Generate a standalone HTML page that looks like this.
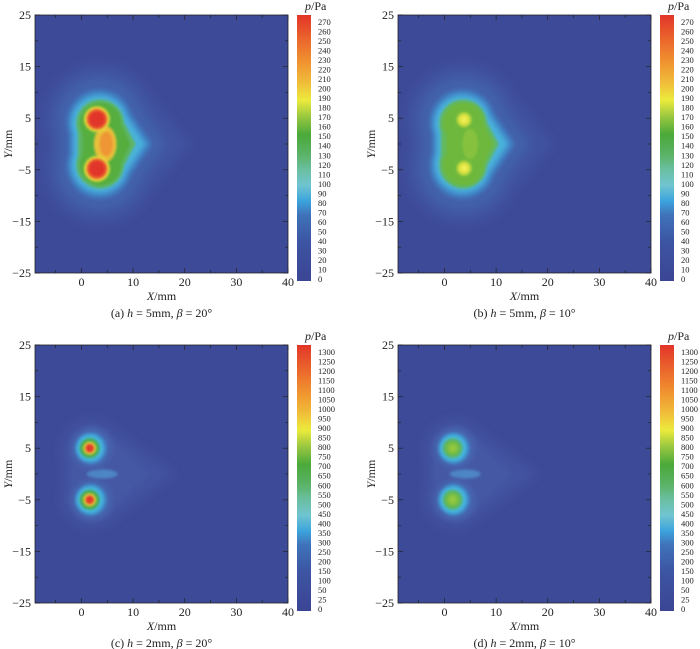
<!DOCTYPE html>
<html><head><meta charset="utf-8"><style>
body{margin:0;background:#fff;}
svg{display:block;font-family:"Liberation Serif","Times New Roman",serif;}
</style></head><body>
<svg id="s" width="700" height="649" xmlns="http://www.w3.org/2000/svg">
<defs>
<filter id="b1" x="-50%" y="-50%" width="200%" height="200%"><feGaussianBlur stdDeviation="5"/></filter>
<filter id="b2" x="-50%" y="-50%" width="200%" height="200%"><feGaussianBlur stdDeviation="2.5"/></filter>
<filter id="b3" x="-50%" y="-50%" width="200%" height="200%"><feGaussianBlur stdDeviation="1.2"/></filter>
<linearGradient id="cb" x1="0" y1="1" x2="0" y2="0">
<stop offset="0" stop-color="#3b4594"/>
<stop offset="0.15" stop-color="#3c55a3"/>
<stop offset="0.25" stop-color="#3f74ba"/>
<stop offset="0.3" stop-color="#3ba3dc"/>
<stop offset="0.36" stop-color="#70c4d0"/>
<stop offset="0.42" stop-color="#6abfa0"/>
<stop offset="0.47" stop-color="#5cb36a"/>
<stop offset="0.55" stop-color="#4aa93a"/>
<stop offset="0.62" stop-color="#9cc840"/>
<stop offset="0.68" stop-color="#eceb3c"/>
<stop offset="0.74" stop-color="#f0c03a"/>
<stop offset="0.82" stop-color="#f09430"/>
<stop offset="0.9" stop-color="#eb6a2c"/>
<stop offset="1" stop-color="#e2352a"/>
</linearGradient>
</defs>
</svg>
<script>
const S=document.getElementById('s');const NS='http://www.w3.org/2000/svg';
function el(t,a,p,txt){const e=document.createElementNS(NS,t);for(const k in a)e.setAttribute(k,a[k]);if(txt!==undefined)e.textContent=txt;(p||S).appendChild(e);return e;}
const labA=[];for(let v=270;v>=0;v-=10)labA.push(v);
const labC=[];for(let v=1300;v>=100;v-=50)labC.push(v);labC.push(50,25,0);
function panel(ox,oy,type,cap){
 const L=ox+35,T=oy+15,W=253,H=258;
 const u=W/49;
 const px=X=>L+(X+9)*u, py=Y=>T+(25-Y)*(H/50);
 const cid='c'+type;
 const cp=el('clipPath',{id:cid});el('rect',{x:L,y:T,width:W,height:H},cp);
 const g=el('g',{'clip-path':`url(#${cid})`});
 el('rect',{x:L,y:T,width:W,height:H,fill:'#3d4a98'},g);
 function shape(cx,dy,r,tip,col,f,notch){
  const gg=el('g',{filter:f,fill:col},g);
  el('circle',{cx:px(cx),cy:py(dy),r:r*u},gg);
  el('circle',{cx:px(cx),cy:py(-dy),r:r*u},gg);
  el('polygon',{points:`${px(cx)},${py(dy+r)} ${px(cx+r*0.6)},${py(dy+r*0.8)} ${px(tip)},${py(0)} ${px(cx+r*0.6)},${py(-dy-r*0.8)} ${px(cx)},${py(-dy-r)}`},gg);
  const lx=cx-r*(notch===undefined?0.93:notch);
  el('rect',{x:px(lx),y:py(dy),width:(cx+r-lx)*u,height:(2*dy)*u},gg);
 }
 function circ(X,Y,r,col,f){el('circle',{cx:px(X),cy:py(Y),r:r*u,fill:col,filter:f},g);}
 if(type==='a'||type==='b'){
  const A=type==='a';
  shape(3.5,4.5,11,21,'#4052a0','url(#b1)');
  shape(3.5,4.5,8.5,16.5,'#4262ab','url(#b1)');
  shape(3.5,4.2,6.2,13.5,'#3f86c8','url(#b2)');
  shape(3.5,4.0,5.4,12.3,'#48b2dc','url(#b2)');
  shape(3.6,4.0,4.6,10.5,A?'#5db566':'#62b862','url(#b3)');
  shape(3.7,4.0,4.0,9.5,A?'#55ae3c':'#6eb83c','url(#b3)',0.85);
  if(A){
   el('ellipse',{cx:px(4.6),cy:py(0),rx:2.2*u,ry:3.5*u,fill:'#e9c03a',filter:'url(#b3)'},g);
   el('ellipse',{cx:px(4.8),cy:py(0),rx:1.3*u,ry:2.4*u,fill:'#ee9534',filter:'url(#b3)'},g);
   for(const Y of [4.8,-4.8]){circ(3,Y,2.5,'#e9d83c','url(#b3)');circ(3,Y,2.0,'#ea6a2e','url(#b3)');circ(3,Y,1.6,'#e2352a','url(#b3)');}
  }else{
   el('ellipse',{cx:px(5),cy:py(0),rx:1.5*u,ry:3*u,fill:'#86c23c',filter:'url(#b3)'},g);
   for(const Y of [4.7,-4.7]){circ(3.8,Y,1.4,'#c8dc3c','url(#b3)');circ(3.8,Y,0.8,'#f0ec50','url(#b3)');}
  }
 }else{
  const red=type==='c';
  shape(2,4.5,6,18,'#4252a0','url(#b1)');
  shape(2,4.5,4.5,13,'#4458a4','url(#b2)');
  el('ellipse',{cx:px(4),cy:py(0),rx:3*u,ry:0.9*u,fill:'#4e86c4',filter:'url(#b3)'},g);
  for(const Y of [5,-5]){
   circ(2,Y,4.0,'#4664ae','url(#b2)');
   circ(1.8,Y,3.1,'#3f88c8','url(#b3)');
   circ(1.7,Y,2.6,'#45b4de','url(#b3)');
   circ(1.6,Y,1.9,red?'#4aaa48':'#5cb662','url(#b3)');
   circ(1.6,Y,1.25,red?'#e8d23c':'#7cbe40','url(#b3)');
   if(red)circ(1.6,Y,0.85,'#e23a2a','url(#b3)');
   else circ(1.6,Y,0.7,'#94c840','url(#b3)');
  }
 }
 el('rect',{x:L,y:T,width:W,height:H,fill:'none',stroke:'#222','stroke-width':0.8});
 for(let X=-5;X<=40;X+=5){const x=px(X);const len=X%10===0?5:3;el('line',{x1:x,y1:T+H,x2:x,y2:T+H-len,stroke:'#222','stroke-width':0.7});el('line',{x1:x,y1:T,x2:x,y2:T+len,stroke:'#222','stroke-width':0.7});}
 for(let Y=-25;Y<=25;Y+=5){const y=py(Y);const len=(Y+25)%10===0?5:3;el('line',{x1:L,y1:y,x2:L+len,y2:y,stroke:'#222','stroke-width':0.7});el('line',{x1:L+W,y1:y,x2:L+W-len,y2:y,stroke:'#222','stroke-width':0.7});}
 for(const X of [0,10,20,30,40])el('text',{x:px(X),y:T+H+13,'font-size':12,'text-anchor':'middle',fill:'#222'},undefined,X);
 for(const Y of [25,15,5,-5,-15,-25])el('text',{x:L-4,y:py(Y)+4,'font-size':12,'text-anchor':'end',fill:'#222'},undefined,(Y<0?'\u2212'+(-Y):Y));
 const xl=el('text',{x:px(15.5),y:T+H+27,'font-size':12,'text-anchor':'middle',fill:'#222'});
 el('tspan',{'font-style':'italic'},xl,'X');el('tspan',{},xl,'/mm');
 const yl=el('text',{x:0,y:0,'font-size':12,'text-anchor':'middle',fill:'#222',transform:`translate(${ox+12},${py(0)}) rotate(-90)`});
 el('tspan',{'font-style':'italic'},yl,'Y');el('tspan',{},yl,'/mm');
 const c=el('text',{x:px(15.5),y:T+H+44,'font-size':12,'text-anchor':'middle',fill:'#222'});
 el('tspan',{},c,cap[0]+' ');el('tspan',{'font-style':'italic'},c,'h');el('tspan',{},c,' = '+cap[1]+', ');el('tspan',{'font-style':'italic'},c,'β');el('tspan',{},c,' = '+cap[2]);
 const cx=ox+297,ct=oy+15,cb=oy+281;
 el('rect',{x:cx,y:ct,width:14,height:cb-ct,fill:'url(#cb)'});
 const labs=(type==='a'||type==='b')?labA:labC;
 const t0=oy+22,t1=oy+279;
 labs.forEach((v,i)=>{const y=t0+(t1-t0)*i/(labs.length-1);el('text',{x:cx+21,y:y+3,'font-size':8.5,fill:'#222'},undefined,v);});
 const pt=el('text',{x:cx+8,y:oy+10,'font-size':12,fill:'#222'});
 el('tspan',{'font-style':'italic'},pt,'p');el('tspan',{},pt,'/Pa');
}
panel(0,0,'a',['(a)','5mm','20°']);
panel(363,0,'b',['(b)','5mm','10°']);
panel(0,330,'c',['(c)','2mm','20°']);
panel(363,330,'d',['(d)','2mm','10°']);
</script>
</body></html>
